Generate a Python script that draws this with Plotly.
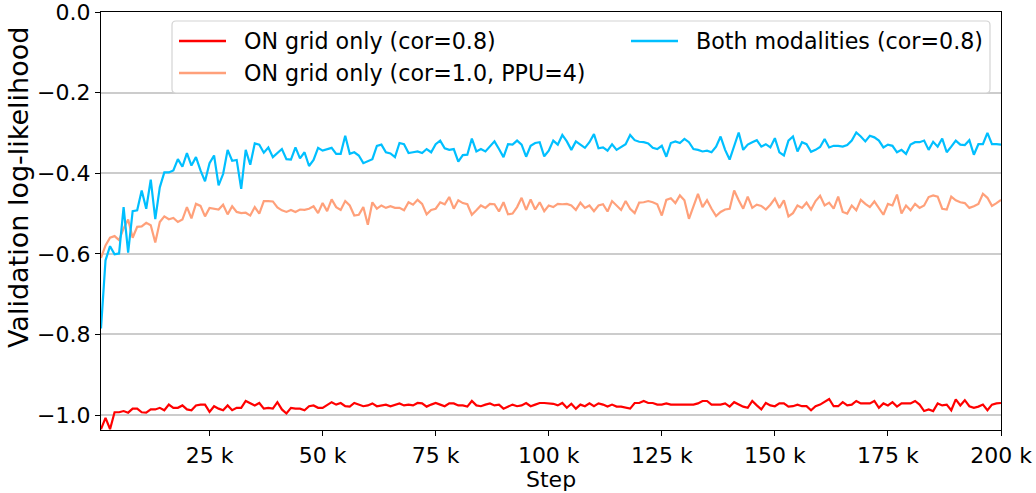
import plotly.graph_objects as go

# Validation log-likelihood logged every 1k training steps
steps = list(range(1000, 201000, 1000))

on_grid_cor08 = [
    -1.035, -1.007, -1.035, -0.993, -0.993, -0.990, -0.994, -0.984, -0.984, -0.993,
    -0.994, -0.986, -0.986, -0.982, -0.988, -0.974, -0.982, -0.982, -0.976, -0.986,
    -0.988, -0.976, -0.974, -0.974, -0.992, -0.978, -0.984, -0.988, -0.976, -0.988,
    -0.982, -0.982, -0.965, -0.971, -0.976, -0.970, -0.984, -0.982, -0.984, -0.968,
    -0.986, -0.996, -0.982, -0.984, -0.984, -0.988, -0.978, -0.976, -0.982, -0.982,
    -0.976, -0.968, -0.974, -0.970, -0.978, -0.979, -0.970, -0.974, -0.978, -0.976,
    -0.971, -0.978, -0.976, -0.974, -0.978, -0.974, -0.971, -0.976, -0.974, -0.976,
    -0.970, -0.971, -0.979, -0.974, -0.970, -0.974, -0.978, -0.971, -0.971, -0.976,
    -0.976, -0.979, -0.965, -0.976, -0.978, -0.974, -0.971, -0.976, -0.974, -0.984,
    -0.979, -0.974, -0.978, -0.976, -0.970, -0.978, -0.974, -0.970, -0.970, -0.971,
    -0.972, -0.976, -0.970, -0.982, -0.972, -0.984, -0.974, -0.978, -0.971, -0.978,
    -0.971, -0.974, -0.979, -0.974, -0.979, -0.979, -0.982, -0.984, -0.970, -0.970,
    -0.965, -0.970, -0.970, -0.974, -0.974, -0.971, -0.974, -0.974, -0.974, -0.974,
    -0.974, -0.974, -0.971, -0.965, -0.965, -0.974, -0.974, -0.974, -0.971, -0.979,
    -0.968, -0.974, -0.979, -0.982, -0.965, -0.976, -0.986, -0.970, -0.976, -0.978,
    -0.971, -0.971, -0.979, -0.978, -0.974, -0.978, -0.978, -0.988, -0.978, -0.974,
    -0.968, -0.960, -0.978, -0.978, -0.968, -0.976, -0.974, -0.965, -0.971, -0.971,
    -0.971, -0.965, -0.982, -0.971, -0.976, -0.968, -0.979, -0.971, -0.971, -0.971,
    -0.965, -0.974, -0.990, -0.986, -0.990, -0.971, -0.976, -0.974, -0.988, -0.961,
    -0.976, -0.963, -0.978, -0.982, -0.979, -0.974, -0.988, -0.974, -0.971, -0.970,
]

on_grid_cor10_ppu4 = [
    -0.610, -0.579, -0.560, -0.556, -0.566, -0.537, -0.515, -0.560, -0.533, -0.532,
    -0.523, -0.529, -0.572, -0.521, -0.507, -0.514, -0.511, -0.521, -0.515, -0.484,
    -0.512, -0.476, -0.481, -0.507, -0.486, -0.488, -0.490, -0.478, -0.502, -0.482,
    -0.496, -0.499, -0.498, -0.505, -0.484, -0.500, -0.469, -0.469, -0.470, -0.485,
    -0.492, -0.496, -0.491, -0.496, -0.490, -0.491, -0.488, -0.482, -0.499, -0.474,
    -0.494, -0.465, -0.484, -0.491, -0.469, -0.480, -0.505, -0.503, -0.484, -0.528,
    -0.472, -0.488, -0.480, -0.486, -0.482, -0.486, -0.486, -0.492, -0.472, -0.478,
    -0.466, -0.476, -0.502, -0.491, -0.488, -0.472, -0.477, -0.459, -0.488, -0.467,
    -0.474, -0.477, -0.503, -0.492, -0.480, -0.486, -0.476, -0.477, -0.495, -0.472,
    -0.502, -0.500, -0.484, -0.461, -0.491, -0.465, -0.490, -0.472, -0.494, -0.480,
    -0.484, -0.476, -0.477, -0.476, -0.480, -0.491, -0.473, -0.486, -0.480, -0.494,
    -0.480, -0.477, -0.495, -0.469, -0.480, -0.491, -0.469, -0.488, -0.499, -0.473,
    -0.472, -0.469, -0.472, -0.477, -0.505, -0.466, -0.462, -0.474, -0.455, -0.467,
    -0.513, -0.484, -0.451, -0.484, -0.467, -0.488, -0.506, -0.496, -0.490, -0.488,
    -0.443, -0.467, -0.488, -0.458, -0.486, -0.478, -0.481, -0.490, -0.478, -0.463,
    -0.486, -0.467, -0.507, -0.499, -0.480, -0.486, -0.473, -0.490, -0.469, -0.456,
    -0.480, -0.473, -0.488, -0.458, -0.496, -0.500, -0.480, -0.492, -0.466, -0.476,
    -0.484, -0.470, -0.488, -0.503, -0.476, -0.480, -0.453, -0.500, -0.480, -0.492,
    -0.476, -0.486, -0.480, -0.459, -0.455, -0.458, -0.488, -0.490, -0.458, -0.467,
    -0.472, -0.474, -0.486, -0.482, -0.476, -0.451, -0.461, -0.481, -0.474, -0.466,
]

both_modalities_cor08 = [
    -0.785, -0.616, -0.581, -0.601, -0.599, -0.484, -0.597, -0.494, -0.492, -0.443,
    -0.488, -0.416, -0.514, -0.435, -0.398, -0.398, -0.393, -0.365, -0.384, -0.350,
    -0.381, -0.360, -0.393, -0.420, -0.375, -0.356, -0.430, -0.402, -0.342, -0.369,
    -0.367, -0.439, -0.342, -0.379, -0.326, -0.329, -0.349, -0.336, -0.360, -0.351,
    -0.340, -0.365, -0.366, -0.336, -0.363, -0.348, -0.382, -0.367, -0.337, -0.344,
    -0.341, -0.337, -0.352, -0.352, -0.307, -0.352, -0.348, -0.356, -0.375, -0.370,
    -0.365, -0.332, -0.329, -0.348, -0.351, -0.360, -0.325, -0.328, -0.350, -0.348,
    -0.346, -0.350, -0.340, -0.348, -0.328, -0.319, -0.338, -0.342, -0.340, -0.371,
    -0.355, -0.354, -0.314, -0.346, -0.340, -0.346, -0.334, -0.321, -0.340, -0.360,
    -0.328, -0.329, -0.319, -0.329, -0.359, -0.332, -0.325, -0.323, -0.358, -0.344,
    -0.319, -0.329, -0.305, -0.321, -0.342, -0.321, -0.329, -0.337, -0.323, -0.303,
    -0.338, -0.336, -0.344, -0.328, -0.342, -0.334, -0.328, -0.305, -0.318, -0.322,
    -0.323, -0.326, -0.337, -0.340, -0.332, -0.359, -0.325, -0.321, -0.325, -0.315,
    -0.323, -0.340, -0.342, -0.346, -0.344, -0.348, -0.334, -0.309, -0.342, -0.366,
    -0.332, -0.299, -0.342, -0.329, -0.323, -0.318, -0.334, -0.328, -0.336, -0.313,
    -0.348, -0.356, -0.319, -0.309, -0.346, -0.323, -0.328, -0.347, -0.342, -0.335,
    -0.315, -0.336, -0.332, -0.332, -0.334, -0.330, -0.319, -0.299, -0.309, -0.321,
    -0.307, -0.311, -0.319, -0.336, -0.329, -0.332, -0.348, -0.342, -0.352, -0.329,
    -0.323, -0.323, -0.319, -0.342, -0.322, -0.334, -0.314, -0.348, -0.334, -0.319,
    -0.329, -0.330, -0.318, -0.354, -0.328, -0.328, -0.300, -0.328, -0.328, -0.329,
]

series_names = ["ON grid only (cor=0.8)", "ON grid only (cor=1.0, PPU=4)",
                "Both modalities (cor=0.8)"]
series_colors = ["#ff0000", "#ffa07a", "#00bfff"]

x_tick_vals = [25000, 50000, 75000, 100000, 125000, 150000, 175000, 200000]
x_tick_text = ["25 k", "50 k", "75 k", "100 k", "125 k", "150 k", "175 k", "200 k"]
y_tick_vals = [-1.0, -0.8, -0.6, -0.4, -0.2, 0.0]
y_tick_text = ["\u22121.0", "\u22120.8", "\u22120.6", "\u22120.4", "\u22120.2", "0.0"]
x_label = "Step"
y_label = "Validation log-likelihood"

FONT = "DejaVu Sans"
W, H = 1036, 493
ML, MR, MT, MB = 101, 35, 12, 63
PW, PH = W - ML - MR, H - MT - MB


def px_x(p):
    """pixel column -> paper x"""
    return (p - ML) / PW


def px_y(p):
    """pixel row -> paper y"""
    return 1 - (p - MT) / PH


fig = go.Figure()
for vals, name, color in zip(
        [on_grid_cor08, on_grid_cor10_ppu4, both_modalities_cor08],
        series_names, series_colors):
    fig.add_trace(go.Scatter(x=steps, y=vals, mode="lines", name=name,
                             line=dict(color=color, width=2.2),
                             showlegend=False))

# two-column legend box with rounded corners
bx0, bx1, by0, by1, r = 172, 990, 21, 93, 4
path = (
    f"M {px_x(bx0 + r)} {px_y(by0)} L {px_x(bx1 - r)} {px_y(by0)} "
    f"Q {px_x(bx1)} {px_y(by0)} {px_x(bx1)} {px_y(by0 + r)} "
    f"L {px_x(bx1)} {px_y(by1 - r)} "
    f"Q {px_x(bx1)} {px_y(by1)} {px_x(bx1 - r)} {px_y(by1)} "
    f"L {px_x(bx0 + r)} {px_y(by1)} "
    f"Q {px_x(bx0)} {px_y(by1)} {px_x(bx0)} {px_y(by1 - r)} "
    f"L {px_x(bx0)} {px_y(by0 + r)} "
    f"Q {px_x(bx0)} {px_y(by0)} {px_x(bx0 + r)} {px_y(by0)} Z"
)
shapes = [dict(type="path", path=path, xref="paper", yref="paper",
               fillcolor="rgba(255,255,255,0.85)",
               line=dict(color="#d4d4d4", width=1.2), layer="above")]
annotations = []
legend_slots = [(179, 41), (179, 73), (631, 41)]  # (sample start px, row centre px)
for (sx, sy), name, color in zip(legend_slots, series_names, series_colors):
    shapes.append(dict(type="line", xref="paper", yref="paper",
                       x0=px_x(sx), x1=px_x(sx + 47), y0=px_y(sy), y1=px_y(sy),
                       line=dict(color=color, width=2.4), layer="above"))
    annotations.append(dict(text=name, xref="paper", yref="paper",
                            x=px_x(sx + 63), y=px_y(sy), xanchor="left",
                            yanchor="middle", showarrow=False,
                            font=dict(family=FONT, size=22.2, color="black")))

# axis titles
annotations.append(dict(text=x_label, xref="paper", yref="paper",
                        x=px_x(551), y=px_y(479), xanchor="center", yanchor="middle",
                        showarrow=False, font=dict(family=FONT, size=22, color="black")))
annotations.append(dict(text=y_label, xref="paper", yref="paper", textangle=-90,
                        x=px_x(18), y=px_y(188), xanchor="center", yanchor="middle",
                        showarrow=False, font=dict(family=FONT, size=27, color="black")))

fig.update_layout(
    width=W, height=H,
    margin=dict(l=ML, r=MR, t=MT, b=MB),
    paper_bgcolor="white", plot_bgcolor="white",
    font=dict(family=FONT, size=22, color="black"),
    showlegend=False,
    shapes=shapes,
    annotations=annotations,
    xaxis=dict(
        range=[1000, 200000], automargin=False,
        tickmode="array", tickvals=x_tick_vals, ticktext=x_tick_text,
        ticks="outside", ticklen=5, tickwidth=1.3, tickcolor="black",
        tickfont=dict(family=FONT, size=22), ticklabeloverflow="allow",
        showline=True, linecolor="black", linewidth=1.3, mirror=True,
        showgrid=False, zeroline=False,
    ),
    yaxis=dict(
        range=[-1.037, 0.0], automargin=False,
        tickmode="array", tickvals=y_tick_vals, ticktext=y_tick_text,
        ticks="outside", ticklen=5, tickwidth=1.3, tickcolor="black",
        tickfont=dict(family=FONT, size=22), ticklabeloverflow="allow",
        showline=True, linecolor="black", linewidth=1.3, mirror=True,
        showgrid=True, gridcolor="#cccccc", gridwidth=1.6,
        zeroline=False,
    ),
)

fig.write_html("out.html")
